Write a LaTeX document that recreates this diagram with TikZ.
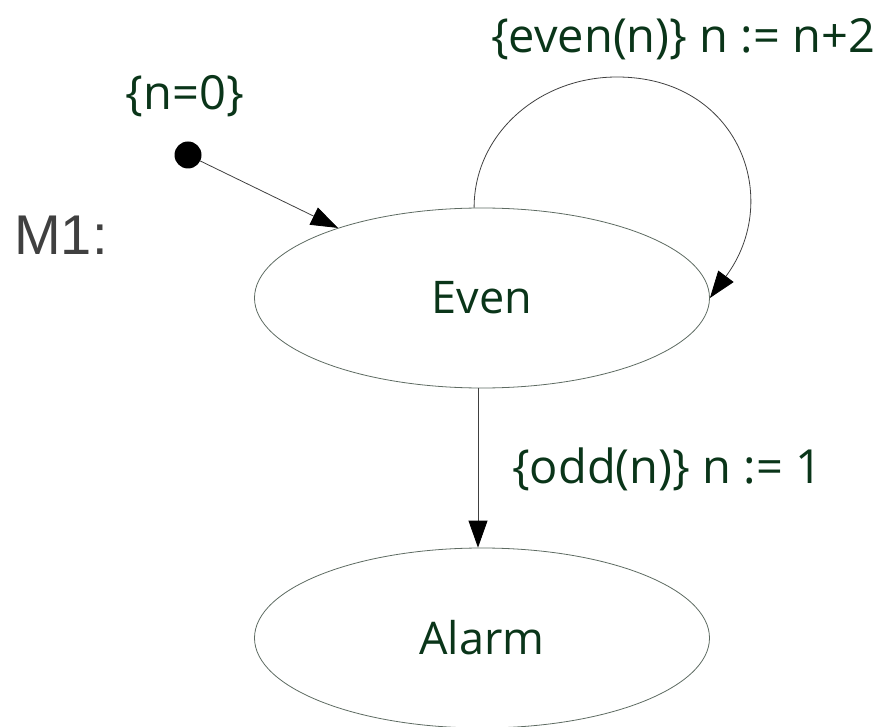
\documentclass[tikz,border=0pt]{standalone}
\usepackage{fontspec}
\setmainfont{Open Sans}
\newfontfamily\mfont{Liberation Sans}
\usetikzlibrary{arrows.meta,shapes.geometric}
\definecolor{txtgreen}{HTML}{0A3519}
\definecolor{mgray}{HTML}{404040}
\definecolor{edge}{HTML}{5E6B62}
\tikzset{
  state/.style={ellipse, draw=edge, line width=0.8pt, minimum width=455pt, minimum height=180pt, inner sep=0pt, font=\fontsize{45}{52}\selectfont, text=txtgreen},
  lbl/.style={font=\fontsize{47}{54}\selectfont, text=txtgreen, inner sep=0pt, anchor=base},
  conn/.style={draw=black!75, line width=0.8pt, -{Triangle[length=27pt,width=19pt,color=black]}}
}
\begin{document}
\begin{tikzpicture}[x=1pt,y=-1pt]
\useasboundingbox (0,0) rectangle (881,727);
\node[state] (even) at (482,298) {Even};
\node[state] (alarm) at (482,638) {Alarm};
\node[circle, fill=black, minimum size=27pt, inner sep=0pt] (init) at (188,155) {};
\node[lbl] (l0) at (185,110) {\{n=0\}};
\node[lbl] (lloop) at (683,53) {\{even(n)\} n := n+2};
\node[lbl] (lodd) at (667,483) {\{odd(n)\} n := 1};
\node[font=\mfont\fontsize{56}{60}\selectfont, text=mgray, inner sep=0pt, anchor=base] (m1) at (61,255) {M1:};
\draw[conn] (init) -- (even);
\draw[conn] ([xshift=-4pt]even.south) -- ([xshift=-4pt]alarm.north);
\coordinate (top) at (617,77);
\draw[conn] (even.95) .. controls (474,135) and (538,77) .. (top) .. controls (738,77) and (784,198) .. (even.east);
\end{tikzpicture}
\end{document}
